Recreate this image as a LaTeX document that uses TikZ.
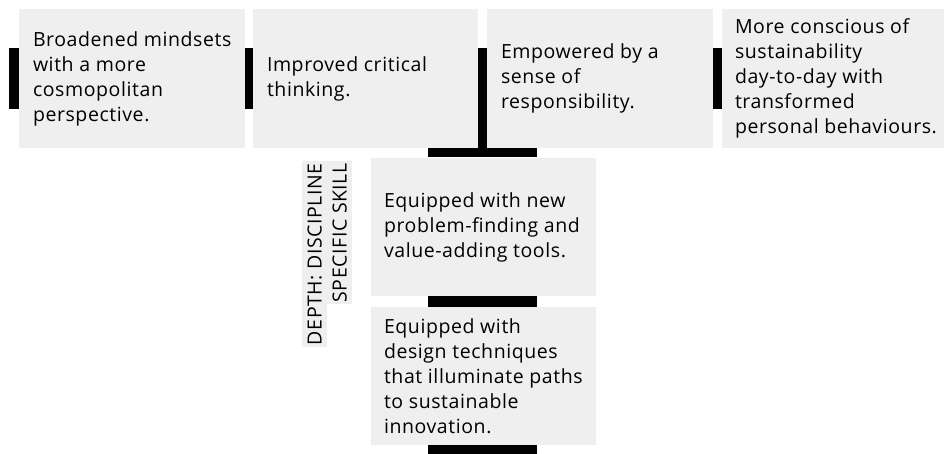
\documentclass[tikz,border=0pt]{standalone}
\usepackage{fontspec}
\setmainfont{Open Sans}[LetterSpace=3]
\usetikzlibrary{positioning}
\definecolor{cardgray}{HTML}{EFEFEF}

\begin{document}
\begin{tikzpicture}[x=1pt, y=-1pt,
    card/.style={rectangle, fill=cardgray, minimum width=226pt, minimum height=139pt, inner sep=0pt},
    txt/.style={align=left, inner sep=0pt, font=\fontsize{19.5}{25}\selectfont},
    depth/.style={fill=cardgray, rotate=90, minimum height=25pt, inner xsep=2pt, inner ysep=0pt, font=\fontsize{19.5}{20}\selectfont},
    bar/.style={fill=black}]
    \useasboundingbox (0,0) rectangle (944,454);

    \node[card] (b1) at (132,78.5) {};
    \node[card, minimum width=225pt] (b2) at (365.5,78.5) {};
    \node[card] (b3) at (600,78.5) {};
    \node[card, minimum width=222pt] (b4) at (833,78.5) {};
    \node[card, minimum width=225pt, minimum height=138pt] (b5) at (483.5,227) {};
    \node[card, minimum width=225pt, minimum height=138pt] (b6) at (483.5,376) {};

    \node[txt, right=14pt of b1.west] (t1) {Broadened mindsets\\with a more\\cosmopolitan\\perspective.};
    \node[txt, right=14pt of b2.west] (t2) {Improved critical\\thinking.};
    \node[txt, right=14pt of b3.west] (t3) {Empowered by a\\sense of\\responsibility.};
    \node[txt, right=13pt of b4.west] (t4) {More conscious of\\sustainability\\day-to-day with\\transformed\\personal behaviours.};
    \node[txt, right=13pt of b5.west] (t5) {Equipped with new\\problem-finding and\\value-adding tools.};
    \node[txt, right=13pt of b6.west] (t6) {Equipped with\\design techniques\\that illuminate paths\\to sustainable\\innovation.};

    % side bars
    \fill[bar] (b1.west) ++(-10,-30.5) rectangle ++(10,61);
    \fill[bar] (b2.west) ++(-8,-30.5) rectangle ++(8,61);
    \fill[bar] (b4.west) ++(-9,-30.5) rectangle ++(9,61);

    % the T
    \fill[bar] (b3.west) ++(-9,-30.5) rectangle ++(9,104);
    \fill[bar] (b5.north) ++(-55.5,-10) rectangle ++(109,9);
    \fill[bar] (b5.south) ++(-55.5,0) rectangle ++(109,11);
    \fill[bar] (b6.south) ++(-55.5,0) rectangle ++(109,9);

    \node[depth, anchor=north east] (d1) at (302,161) {DEPTH: DISCIPLINE};
    \node[depth, anchor=north east] (d2) at (327,161) {SPECIFIC SKILL};
\end{tikzpicture}
\end{document}
